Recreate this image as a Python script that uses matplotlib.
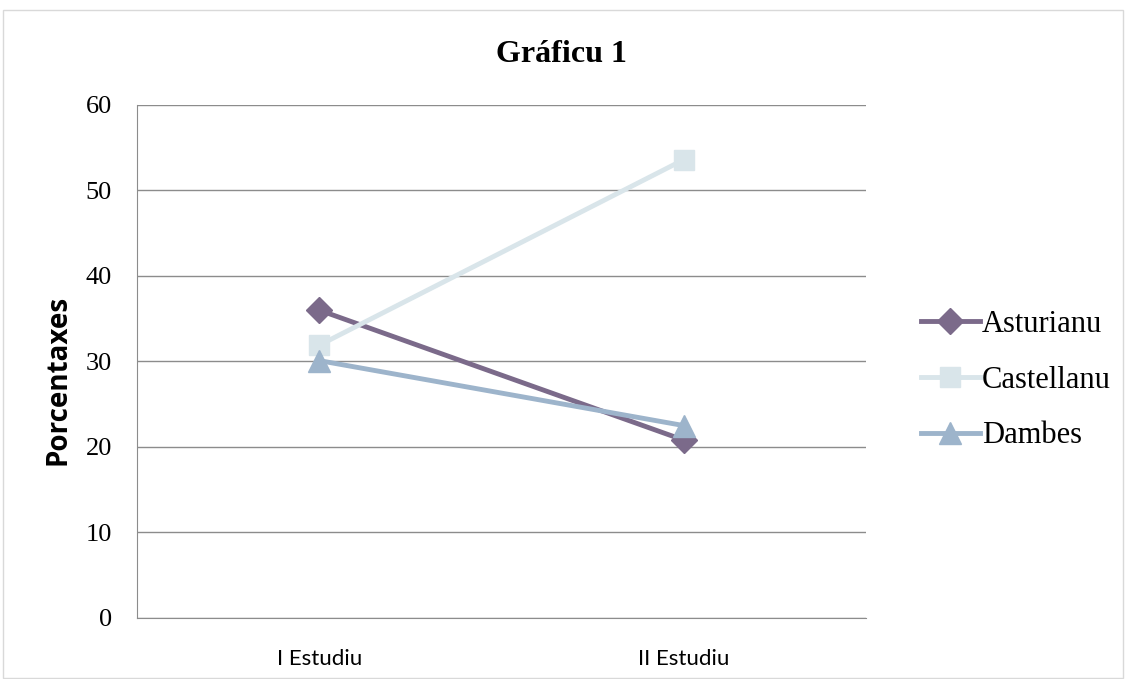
import matplotlib.pyplot as plt
from matplotlib.patches import Rectangle

# data
categories = ["I Estudiu", "II Estudiu"]
asturianu = [36.0, 20.8]
castellanu = [31.9, 53.6]
dambes = [30.1, 22.5]

fig = plt.figure(figsize=(11.26, 6.79), dpi=100)
ax = fig.add_axes([0.1217, 0.0899, 0.6474, 0.7555])

x = [0.5, 1.5]
ax.plot(x, asturianu, color="#7b6a8a", lw=3.5, marker="D", ms=13, label="Asturianu", zorder=3)
ax.plot(x, castellanu, color="#d9e5ea", lw=3.5, marker="s", ms=15, label="Castellanu", zorder=3)
ax.plot(x, dambes, color="#9db4cb", lw=3.5, marker="^", ms=16, label="Dambes", zorder=4)

ax.set_xlim(0, 2)
ax.set_ylim(0, 60)
ax.set_yticks(range(0, 61, 10))
ax.set_xticks(x)
ax.set_xticklabels(categories, fontfamily="Lato", fontsize=16)
for lab in ax.get_yticklabels():
    lab.set_fontfamily("Liberation Serif")
    lab.set_fontsize(19)
ax.tick_params(length=0)
ax.tick_params(axis="x", pad=22)
ax.tick_params(axis="y", pad=18)
ax.grid(axis="y", color="#8c8c8c", lw=1)
ax.set_axisbelow(True)
for side in ["top", "right"]:
    ax.spines[side].set_visible(False)
ax.spines["left"].set_color("#8c8c8c")
ax.spines["bottom"].set_color("#8c8c8c")

ax.set_ylabel("Porcentaxes", fontfamily="Open Sans", fontweight="bold", fontsize=20)
ax.yaxis.set_label_coords(-0.089, 0.464)

fig.text(0.499, 0.92, "Gráficu 1", ha="center", va="center",
         fontfamily="Liberation Serif", fontweight="bold", fontsize=23)

leg = fig.legend(loc="center left", bbox_to_anchor=(0.804, 0.44), frameon=False,
                 prop={"family": "Liberation Serif", "size": 22}, borderpad=0,
                 handlelength=1.95, handletextpad=0.05, labelspacing=0.87)

# outer chart frame
fig.patches.append(Rectangle((0.003, 0.002), 0.994, 0.983, transform=fig.transFigure,
                             fill=False, edgecolor="#d9d9d9", lw=1))

fig.savefig("out.png", dpi=100)
